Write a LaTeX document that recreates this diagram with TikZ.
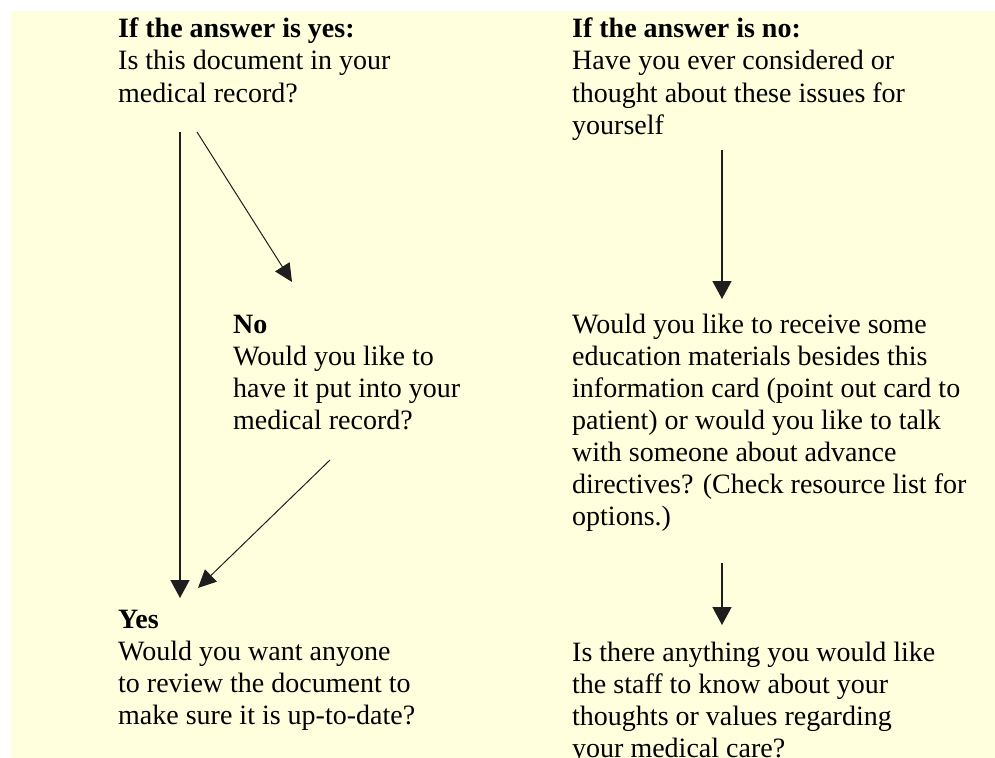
\documentclass[tikz,border=0pt]{standalone}
\usepackage{fontspec}
\setmainfont{Liberation Serif}
\usetikzlibrary{arrows.meta}
\definecolor{bgyellow}{RGB}{255,255,221}
\definecolor{inkgrey}{RGB}{30,30,30}
\begin{document}
\begin{tikzpicture}[x=1bp,y=-1bp,
  txt/.style={anchor=base west,inner sep=0pt,align=left,
    font=\fontsize{28bp}{32bp}\selectfont},
  vline/.style={line width=1.4bp,draw=inkgrey,
    -{Triangle[width=19bp,length=18bp]}},
  dline/.style={line width=1bp,draw=inkgrey,
    -{Triangle[width=17bp,length=18bp]}}]
\useasboundingbox (0,0) rectangle (995,758);
\fill[bgyellow] (11,11) rectangle (995,758);
\begin{scope}
\clip (0,0) rectangle (995,758);
% anchor 'base' of a multi-line node is the baseline of its last line
\node[txt] (yesq) at (118,102) {\textbf{If the answer is yes:}\\Is this document in your\\medical record?};
\node[txt] (noq) at (572,134) {\textbf{If the answer is no:}\\Have you ever considered or\\thought about these issues for\\yourself};
\node[txt] (nob) at (233,429) {\textbf{No}\\Would you like to\\have it put into your\\medical record?};
\node[txt] (edu) at (572,525) {Would you like to receive some\\education materials besides this\\information card (point out card to\\patient) or would you like to talk\\with someone about advance\\directives? (Check resource list for\\options.)};
\node[txt] (yesb) at (118,724) {\textbf{Yes}\\Would you want anyone\\to review the document to\\make sure it is up-to-date?};
\node[txt] (staff) at (572,757) {Is there anything you would like\\the staff to know about your\\thoughts or values regarding\\your medical care?};
\end{scope}
\coordinate (a1s) at (180,132);
\coordinate (a1e) at (180,598);
\coordinate (a2s) at (197,132);
\coordinate (a2e) at (292,282);
\coordinate (a3s) at (330,460);
\coordinate (a3e) at (198,588);
\coordinate (a4s) at (722,150);
\coordinate (a4e) at (722,299);
\coordinate (a5s) at (722,563);
\coordinate (a5e) at (722,625);
\draw[vline] (a1s) -- (a1e);
\draw[dline] (a2s) -- (a2e);
\draw[dline] (a3s) -- (a3e);
\draw[vline] (a4s) -- (a4e);
\draw[vline] (a5s) -- (a5e);
\end{tikzpicture}
\end{document}
